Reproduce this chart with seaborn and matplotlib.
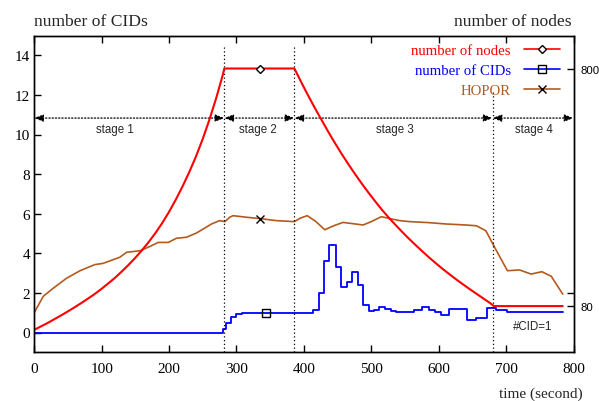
import numpy as np
import matplotlib
matplotlib.use("Agg")
import matplotlib.pyplot as plt
import seaborn as sns
from matplotlib.lines import Line2D

# --- number of nodes in the network (right axis) ---
node_t = [0, 10, 20, 30, 40, 50, 60, 70, 80, 90, 100, 110, 120, 130, 140, 150,
          160, 170, 180, 190, 200, 210, 220, 230, 240, 250, 260, 270, 280, 282,
          386, 396, 406, 416, 426, 436, 446, 456, 466, 476, 486, 496, 506, 516,
          526, 536, 546, 556, 566, 576, 586, 596, 606, 616, 626, 636, 646, 656,
          666, 676, 682, 784]
nodes = [8, 18.5, 29, 40.5, 52, 64, 76.5, 89.5, 103, 117, 132.5, 149, 166, 185,
         205, 226.5, 249.5, 274.5, 302, 332, 365.5, 402.5, 442.5, 486, 533.5,
         586.5, 645.5, 710.5, 782.5, 800,
         800, 759, 719.5, 681.5, 645, 609, 574.5, 541.5, 510, 480, 451, 423.5,
         397, 371.5, 348, 326, 304.5, 284, 264.5, 245.5, 227, 209.5, 192.5,
         176.5, 161, 146, 131.5, 117.5, 103.5, 89.5, 80, 80]

# --- number of CIDs (left axis), piecewise constant from each time onward ---
cid_t = [0, 280, 285, 292, 300, 308, 414, 422, 430, 438, 447, 455, 464, 472,
         480, 488, 496, 504, 512, 521, 530, 537, 564, 575, 585, 594, 604, 616,
         642, 656, 671, 685, 702, 784]
cids = [0, 0.18, 0.5, 0.8, 0.95, 1.0, 1.15, 2.0, 3.63, 4.42, 3.29, 2.28, 2.57,
        3.07, 2.4, 1.4, 1.1, 1.15, 1.27, 1.2, 1.1, 1.02, 1.15, 1.27, 1.15, 1.02,
        0.9, 1.19, 0.63, 0.75, 1.22, 1.15, 1.02, 1.02]

# --- HOPOR (left axis) ---
hopor_t = [0, 13.5, 28, 48, 68, 90, 102, 127, 137, 157, 172, 184, 199, 211, 226,
           241, 263, 275, 283, 290, 295, 315, 336, 359, 386, 395, 405, 418, 431,
           445, 458, 472, 488, 500, 515, 528, 542, 557, 585, 611, 640, 656, 670,
           683, 702, 720, 737, 753, 767, 784]
hopor = [1.0, 1.83, 2.23, 2.74, 3.12, 3.43, 3.49, 3.8, 4.05, 4.13, 4.35, 4.55,
         4.55, 4.76, 4.81, 5.03, 5.48, 5.65, 5.6, 5.82, 5.9, 5.82, 5.75, 5.65,
         5.6, 5.78, 5.9, 5.6, 5.19, 5.4, 5.56, 5.5, 5.43, 5.6, 5.85, 5.75, 5.65,
         5.6, 5.55, 5.48, 5.43, 5.39, 5.14, 4.3, 3.12, 3.16, 2.95, 3.07, 2.84, 1.94]

# --- experiment stages ---
stage_edges = [0, 282, 386, 680, 800]
stage_names = ["stage 1", "stage 2", "stage 3", "stage 4"]
stage_label_t = [120, 332, 535, 742]
stage_line_top = [14.45, 14.45, 12.2]

# one marker per curve, at these times
marker_t = {"nodes": 335, "cids": 344, "hopor": 335}

x_ticks = [0, 100, 200, 300, 400, 500, 600, 700, 800]
y_ticks = [0, 2, 4, 6, 8, 10, 12, 14]
node_ticks = [80, 120, 800]
node_tick_labels = ["80", "", "800"]

RED = "#ff0000"
BLUE = "#0000ff"
BROWN = "#b35a1f"
SERIF = ["Liberation Serif", "DejaVu Serif"]
SANS = ["Liberation Sans", "DejaVu Sans"]

sns.set_theme(style="ticks")
plt.rcParams["font.family"] = SERIF

W, H = 599, 402
fig = plt.figure(figsize=(W / 100, H / 100), dpi=100)
left, right, top, bottom = 34.2, 573.5, 36.5, 353.3
ax = fig.add_axes([left / W, 1 - bottom / H, (right - left) / W, (bottom - top) / H])
ax2 = ax.twinx()

sns.lineplot(x=cid_t, y=cids, ax=ax, color=BLUE, lw=1.3,
             drawstyle="steps-post", estimator=None)
sns.lineplot(x=hopor_t, y=hopor, ax=ax, color=BROWN, lw=1.2, estimator=None)
sns.lineplot(x=node_t, y=nodes, ax=ax2, color=RED, lw=1.5, estimator=None)

# single markers placed on each curve
cid_idx = np.searchsorted(cid_t, marker_t["cids"], side="right") - 1
ax.plot([marker_t["cids"]], [cids[cid_idx]], ls="none", marker="s", ms=5.6,
        mfc="none", mec="black", mew=1.0, zorder=5)
ax.plot([marker_t["hopor"]], [np.interp(marker_t["hopor"], hopor_t, hopor)],
        ls="none", marker="x", ms=5.5, mec="black", mew=1.0, zorder=5)
ax2.plot([marker_t["nodes"]], [np.interp(marker_t["nodes"], node_t, nodes)],
         ls="none", marker="D", ms=4, mfc="white", mec="black", mew=1.0, zorder=5)

ax.set_xlim(0, 800)
ax.set_ylim(-1, 15)
ax2.set_ylim(-60, 900)
ax.set_xticks(x_ticks)
ax.set_yticks(y_ticks)
ax2.set_yticks(node_ticks)
ax2.set_yticklabels(node_tick_labels)
ax.set_xlabel("")
ax.set_ylabel("")
ax2.set_ylabel("")

ax.tick_params(axis="both", direction="in", length=5, width=1, colors="black",
               labelsize=11)
ax.tick_params(axis="x", top=True, bottom=True, pad=7)
ax.tick_params(axis="y", left=True, right=False, pad=3)
ax2.tick_params(axis="y", direction="in", length=5, width=1, right=True,
                left=False, pad=5, labelsize=8.2, colors="black")
for lbl in ax2.get_yticklabels():
    lbl.set_family(SANS)
for a in (ax, ax2):
    for s in a.spines.values():
        s.set_color("black")
        s.set_linewidth(1.0)
        s.set_visible(True)

# stage boundaries and spans
ax.vlines(stage_edges[1:4], -1, stage_line_top, colors="black",
          linestyles=(0, (1, 2)), lw=0.9)
arrow_y = 10.83
for a, b in zip(stage_edges[:-1], stage_edges[1:]):
    ax.annotate("", xy=(b, arrow_y), xytext=(a, arrow_y),
                arrowprops=dict(arrowstyle="<|-|>,head_length=0.45,head_width=0.18",
                                linestyle=(0, (1, 1.6)), lw=0.9, color="black",
                                shrinkA=0, shrinkB=0))
for xt, name in zip(stage_label_t, stage_names):
    ax.text(xt, 10.3, name, ha="center", va="center", family=SANS, fontsize=8.3)

ax.text(740, 0.33, "#CID=1", ha="center", va="center", family=SANS, fontsize=8.3)

# axis titles
fig.text(34 / W, 1 - 26 / H, "number of CIDs", ha="left", va="baseline", fontsize=12.6)
fig.text(572 / W, 1 - 26 / H, "number of nodes", ha="right", va="baseline", fontsize=12.6)
fig.text(583 / W, 1 - 394 / H, "time (second)", ha="right", va="center", fontsize=11)

# legend, labels on the left of their samples
handles = [
    Line2D([], [], color=RED, lw=1.2, marker="D", ms=4, mfc="white", mec="black"),
    Line2D([], [], color=BLUE, lw=1.2, marker="s", ms=5.6, mfc="none", mec="black"),
    Line2D([], [], color=BROWN, lw=1.2, marker="x", ms=5.5, mec="black"),
]
ax2.legend(handles, ["number of nodes", "number of CIDs", "HOPOR"],
           loc="upper right", bbox_to_anchor=(560 / W, 1 - 45 / H),
           bbox_transform=fig.transFigure, markerfirst=False, frameon=False,
           handlelength=2.45, handletextpad=0.88, labelspacing=0.45,
           borderpad=0, borderaxespad=0, fontsize=10.6,
           labelcolor=[RED, BLUE, BROWN], numpoints=1)

fig.savefig("out.png", dpi=100)
